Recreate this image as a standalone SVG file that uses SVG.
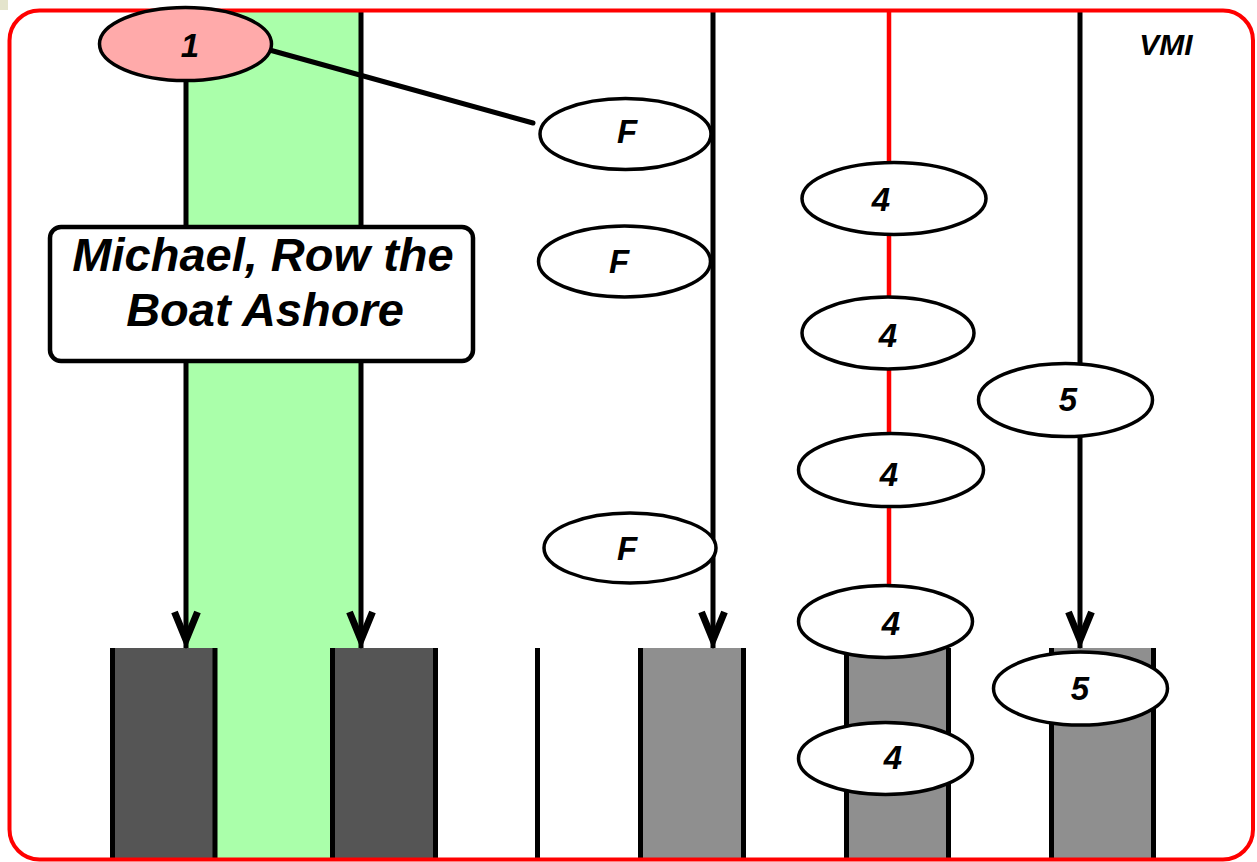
<svg xmlns="http://www.w3.org/2000/svg" width="1257" height="862" viewBox="0 0 1257 862">
  <style>
    .lbl { font-family: "Liberation Sans", Arial, sans-serif; font-weight: bold; font-style: italic; fill: #000; text-anchor: middle; }
    .num { font-size: 33px; }
    .node { fill: #ffffff; stroke: #000; stroke-width: 3.5; }
    .wire { stroke: #000; stroke-width: 5; fill: none; }
    .redwire { stroke: #ff0000; stroke-width: 4.5; fill: none; }
    .barEdge { stroke: #000; stroke-width: 5; }
    .dark { fill: #555555; }
    .grey { fill: #8f8f8f; }
  </style>
  <defs>
    <marker id="vee" markerUnits="userSpaceOnUse" orient="auto" markerWidth="50" markerHeight="40" refX="0" refY="0" viewBox="-40 -20 50 40" overflow="visible">
      <path d="M-36,-11.5 L-8,0 L-36,11.5" fill="none" stroke="#000" stroke-width="7" stroke-linejoin="miter"/>
    </marker>
  </defs>

  <rect x="0" y="0" width="1257" height="862" fill="#ffffff"/>
  <rect x="0" y="0" width="8" height="10" fill="#e4e4cc"/>

  <!-- green band -->
  <rect id="band" x="186" y="10" width="175" height="850" fill="#aaffaa"/>

  <!-- bars -->
  <g id="bars">
    <rect class="dark" x="112" y="648" width="103" height="212"/>
    <line class="barEdge" x1="112.5" y1="648" x2="112.5" y2="860"/>
    <line class="barEdge" x1="215" y1="648" x2="215" y2="860"/>
    <rect class="dark" x="332" y="648" width="104" height="212"/>
    <line class="barEdge" x1="332.5" y1="648" x2="332.5" y2="860"/>
    <line class="barEdge" x1="435.5" y1="648" x2="435.5" y2="860"/>
    <line class="barEdge" x1="537.5" y1="648" x2="537.5" y2="860"/>
    <rect class="grey" x="640" y="648" width="104" height="212"/>
    <line class="barEdge" x1="640.5" y1="648" x2="640.5" y2="860"/>
    <line class="barEdge" x1="743.5" y1="648" x2="743.5" y2="860"/>
    <rect class="grey" x="846" y="648" width="103" height="212"/>
    <line class="barEdge" x1="846.5" y1="648" x2="846.5" y2="860"/>
    <line class="barEdge" x1="948.5" y1="648" x2="948.5" y2="860"/>
    <rect class="grey" x="1051" y="648" width="103" height="212"/>
    <line class="barEdge" x1="1051.5" y1="648" x2="1051.5" y2="860"/>
    <line class="barEdge" x1="1153.5" y1="648" x2="1153.5" y2="860"/>
  </g>

  <!-- connectors -->
  <g id="connectors">
    <line class="wire" x1="186" y1="80" x2="186" y2="648" marker-end="url(#vee)"/>
    <line class="wire" x1="361" y1="11" x2="361" y2="648" marker-end="url(#vee)"/>
    <line class="wire" x1="713" y1="11" x2="713" y2="648" marker-end="url(#vee)"/>
    <line class="wire" x1="1080" y1="11" x2="1080" y2="648" marker-end="url(#vee)"/>
    <line class="redwire" x1="889" y1="11" x2="889" y2="590"/>
    <line class="wire" x1="266" y1="49" x2="533" y2="123" stroke-linecap="round" stroke-width="4.5"/>
  </g>

  <g id="nodeF1"><ellipse class="node" cx="625.5" cy="134" rx="85.5" ry="35.5"/><text class="lbl num" x="627" y="143">F</text></g>
  <g id="nodeF2"><ellipse class="node" cx="624.5" cy="261.5" rx="86" ry="35.5"/><text class="lbl num" x="619" y="273">F</text></g>
  <g id="nodeF3"><ellipse class="node" cx="630" cy="548" rx="86" ry="35"/><text class="lbl num" x="627" y="560">F</text></g>

  <g id="node4a"><ellipse class="node" cx="894" cy="198.5" rx="92" ry="36"/><text class="lbl num" x="881" y="211">4</text></g>
  <g id="node4b"><ellipse class="node" cx="888" cy="333" rx="86" ry="36"/><text class="lbl num" x="888" y="347">4</text></g>
  <g id="node4c"><ellipse class="node" cx="891" cy="470" rx="92.5" ry="36.5"/><text class="lbl num" x="889" y="486">4</text></g>
  <g id="node4d"><ellipse class="node" cx="885.5" cy="621.5" rx="87" ry="36"/><text class="lbl num" x="891" y="635">4</text></g>
  <g id="node4e"><ellipse class="node" cx="885.5" cy="758.5" rx="87" ry="36"/><text class="lbl num" x="893" y="769">4</text></g>

  <g id="node5a"><ellipse class="node" cx="1065.5" cy="400" rx="87" ry="36.5"/><text class="lbl num" x="1068" y="411">5</text></g>
  <g id="node5b"><ellipse class="node" cx="1080.5" cy="688.5" rx="87" ry="36.5"/><text class="lbl num" x="1080" y="700">5</text></g>

  <g id="title">
    <rect x="50" y="227" width="423" height="134" rx="11" ry="11" fill="#ffffff" stroke="#000" stroke-width="4.5"/>
    <text class="lbl" font-size="47" x="263" y="271">Michael, Row the</text>
    <text class="lbl" font-size="47" x="265" y="326">Boat Ashore</text>
  </g>

  <g id="vmi"><text class="lbl" font-size="30" x="1166" y="55">VMI</text></g>

  <!-- frame -->
  <rect id="frame" x="9.5" y="10.5" width="1243.5" height="849" rx="30" ry="30" fill="none" stroke="#ff0000" stroke-width="4"/>

  <g id="node1"><ellipse cx="185.5" cy="44" rx="86" ry="36.5" fill="#ffaaaa" stroke="#000" stroke-width="3.5"/><text class="lbl num" x="190" y="57">1</text></g>
</svg>
